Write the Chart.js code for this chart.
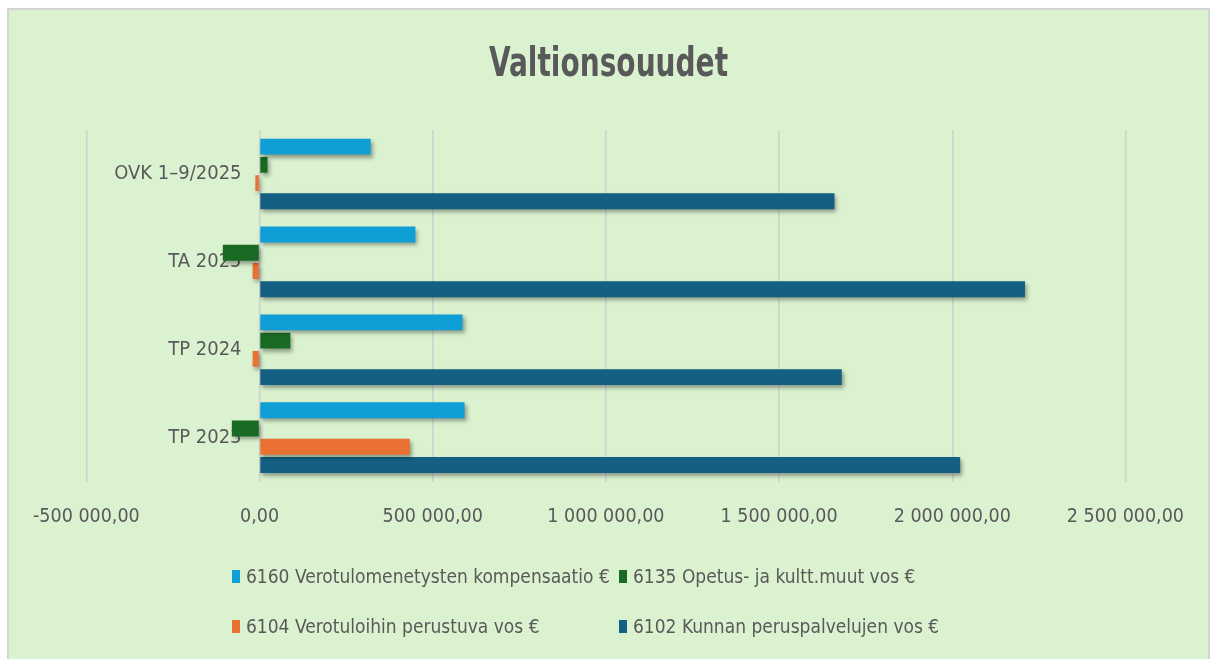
<!DOCTYPE html>
<html>
<head>
<meta charset="utf-8">
<script src="https://cdn.jsdelivr.net/npm/chart.js@4.4.1/dist/chart.umd.min.js"></script>
<style>
  body { margin: 0; background: #fff; width: 1210px; height: 659px; overflow: hidden; }
  #frame { position: absolute; left: 7px; top: 8px; width: 1203px; height: 651px; box-sizing: border-box;
           border: 2px solid #d4d4d4; border-bottom: none; background: #daf2d0; }
  #wrap { position: absolute; left: 0; top: 0; width: 1199px; height: 649px; }
  #title { position: absolute; left: 0; top: 28px; width: 1199px; text-align: center;
           font-family: 'DejaVu Sans Condensed', sans-serif; font-weight: bold; font-size: 41px; color: #595959;
           transform: scaleX(0.76); line-height: 48px; }
  #legend { position: absolute; left: 223px; top: 551px; width: 800px;
            display: grid; grid-template-columns: 387px 387px; row-gap: 20px;
            font-family: 'DejaVu Sans Condensed', sans-serif; font-size: 19px; color: #595959; }
  .item { display: flex; align-items: center; height: 30px; white-space: nowrap; }
  .box { width: 8px; height: 13px; margin-right: 6px; flex-shrink: 0; }
</style>
</head>
<body>
<div id="frame">
  <div id="wrap"><canvas id="chart"></canvas></div>
  <div id="title">Valtionsouudet</div>
  <div id="legend"></div>
</div>
<script>
var categories = ["OVK 1\u20139/2025", "TA 2025", "TP 2024", "TP 2023"];
var seriesNames = [
  "6160 Verotulomenetysten kompensaatio \u20ac",
  "6135 Opetus- ja kultt.muut vos \u20ac",
  "6104 Verotuloihin perustuva vos \u20ac",
  "6102 Kunnan peruspalvelujen vos \u20ac"
];
var kompensaatio = [321000, 450000, 586000, 592000];
var opetus = [23000, -106000, 89000, -80000];
var verotuloihin = [-12000, -20000, -20000, 434000];
var peruspalvelut = [1660000, 2210000, 1681000, 2023000];
var xTicks = [-500000, 0, 500000, 1000000, 1500000, 2000000, 2500000];
var colors = ["#0f9ed5", "#196b24", "#e97132", "#156082"];

var font = "'DejaVu Sans Condensed', sans-serif";
var textColor = "#595959";

function fmt(v) {
  var neg = v < 0;
  var parts = Math.abs(v).toFixed(2).split(".");
  var i = parts[0].replace(/\B(?=(\d{3})+(?!\d))/g, " ");
  return (neg ? "-" : "") + i + "," + parts[1];
}

var values = [kompensaatio, opetus, verotuloihin, peruspalvelut];
var datasets = values.map(function (d, k) {
  return {
    label: seriesNames[k],
    data: d,
    backgroundColor: colors[k],
    categoryPercentage: 0.83,
    barPercentage: 0.87
  };
});

var shadow = {
  id: "shadow",
  beforeDatasetsDraw: function (chart) {
    var c = chart.ctx;
    c.save();
    c.shadowColor = "rgba(0,0,0,0.35)";
    c.shadowBlur = 4;
    c.shadowOffsetX = 2;
    c.shadowOffsetY = 3;
  },
  afterDatasetsDraw: function (chart) { chart.ctx.restore(); }
};

var chart = new Chart(document.getElementById("chart"), {
  type: "bar",
  data: { labels: categories, datasets: datasets },
  plugins: [shadow],
  options: {
    indexAxis: "y",
    responsive: true,
    maintainAspectRatio: false,
    animation: false,
    layout: { padding: { left: 76, right: 71, top: 120, bottom: 106 } },
    plugins: {
      legend: { display: false },
      tooltip: { enabled: false },
      title: { display: false }
    },
    scales: {
      x: {
        min: -500000,
        max: 2500000,
        afterBuildTicks: function (axis) { axis.ticks = xTicks.map(function (v) { return { value: v }; }); },
        grid: { color: "#d0d0d0", lineWidth: 1.5, drawTicks: false },
        border: { display: false },
        ticks: { color: textColor, font: { family: font, size: 19.5 }, padding: 24, callback: function (v) { return fmt(v); } }
      },
      y: {
        position: { x: -52000 },
        grid: { display: false },
        border: { display: false },
        ticks: { color: textColor, font: { family: font, size: 20 } }
      }
    }
  }
});

var legend = document.getElementById("legend");
seriesNames.forEach(function (name, k) {
  var item = document.createElement("div");
  item.className = "item";
  var box = document.createElement("span");
  box.className = "box";
  box.style.background = colors[k];
  var txt = document.createElement("span");
  txt.textContent = name;
  item.appendChild(box);
  item.appendChild(txt);
  legend.appendChild(item);
});
</script>
</body>
</html>
